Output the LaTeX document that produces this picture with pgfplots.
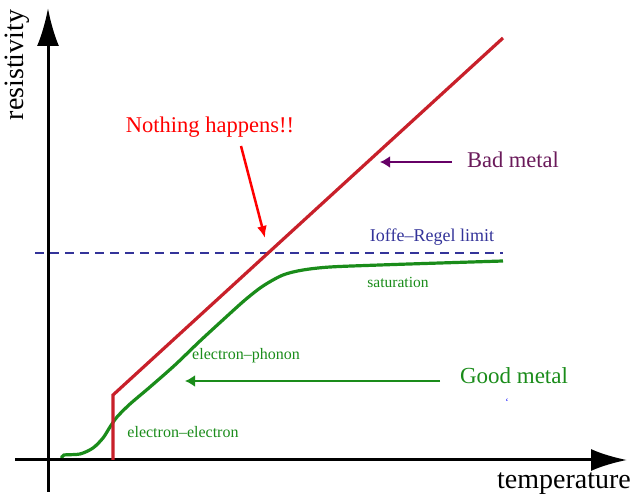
\documentclass[border=0pt]{standalone}
\usepackage{pgfplots}
\pgfplotsset{compat=1.18}
\usetikzlibrary{arrows.meta}
\usepackage{fontspec}
\setmainfont{Liberation Serif}
\definecolor{redline}{HTML}{C8202A}
\definecolor{greenc}{HTML}{1A8C1A}
\definecolor{purp}{HTML}{660066}
\definecolor{badtxt}{HTML}{6A1A5A}
\definecolor{navy}{HTML}{333399}
\begin{document}
\begin{tikzpicture}
\begin{axis}[
  width=635pt, height=502pt, scale only axis,
  xmin=0, xmax=635, ymin=0, ymax=502, y dir=reverse,
  hide axis, clip=false,
]
% axes
\addplot[black, line width=3pt, -{Latex[length=36pt,width=22pt]}] coordinates {(15,460) (627,460)};
\addplot[black, line width=3pt, -{Latex[length=38pt,width=22pt]}] coordinates {(48,492) (48,8)};
% Ioffe-Regel limit
\addplot[navy, line width=1.3pt, dash pattern=on 9pt off 6pt] coordinates {(35,253) (503,253)};
% green curve
\addplot[greenc, line width=3.2pt, smooth, tension=0.5] coordinates {
(62,458) (64,455) (80,454) (93,448) (103,438) (110,427) (117,417) (130,404)
(150,387) (175,365) (200,341) (225,318) (245,300) (263,286) (283,275)
(303,270) (330,267) (380,265) (440,263) (503,261)};
% red line
\addplot[redline, line width=3.2pt] coordinates {(113,460) (113,395) (503,38)};
% annotation arrows
\addplot[red, line width=2.5pt, -{Latex[length=12pt,width=10pt]}] coordinates {(241,146) (265,238)};
\addplot[purp, line width=2.5pt, -{Latex[length=10pt,width=12pt]}] coordinates {(452,162) (380,162)};
\addplot[greenc, line width=2.5pt, -{Latex[length=10pt,width=12pt]}] coordinates {(440,381) (185,381)};
% labels
\node[rotate=90, font=\fontsize{28}{30}\selectfont] at (axis cs:17,65) {resistivity};
\node[font=\fontsize{28}{30}\selectfont] at (axis cs:564,484) {temperature};
\node[red, font=\fontsize{22.5}{24}\selectfont] at (axis cs:210,127) {Nothing happens!!};
\node[badtxt, font=\fontsize{22.5}{24}\selectfont] at (axis cs:513,160) {Bad metal};
\node[navy, font=\fontsize{18}{20}\selectfont] at (axis cs:432,237) {Ioffe{\textendash}Regel limit};
\node[greenc, font=\fontsize{15.5}{17}\selectfont] at (axis cs:398,282) {saturation};
\node[greenc, font=\fontsize{16}{18}\selectfont] at (axis cs:246,356) {electron{\textendash}phonon};
\node[greenc, font=\fontsize{23}{25}\selectfont] at (axis cs:514,376) {Good metal};
\node[greenc, font=\fontsize{16}{18}\selectfont] at (axis cs:183,432) {electron{\textendash}electron};
\node[blue, font=\fontsize{10}{12}\selectfont] at (axis cs:507,402) {‘};
\end{axis}
\pgfresetboundingbox
\path (0,0) rectangle (635pt,502pt);
\end{tikzpicture}
\end{document}
